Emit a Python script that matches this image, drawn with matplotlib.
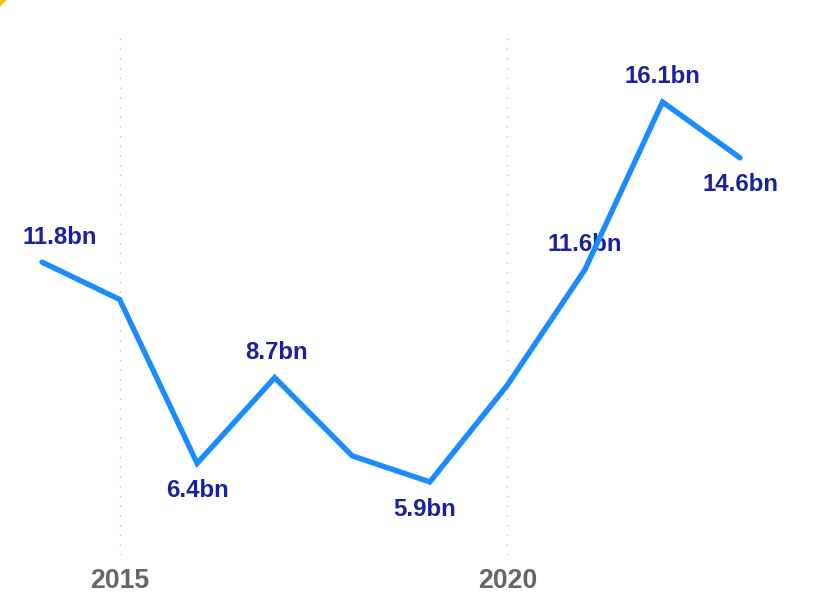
import matplotlib
matplotlib.use("Agg")
import matplotlib.pyplot as plt
from matplotlib.patches import Wedge

# Dados
years = [2014, 2015, 2016, 2017, 2018, 2019, 2020, 2021, 2022, 2023]
values = [11.8, 10.8, 6.4, 8.7, 6.6, 5.9, 8.5, 11.6, 16.1, 14.6]
labeled_years = [2014, 2016, 2017, 2019, 2021, 2022, 2023]
tick_years = [2015, 2020]

# Posição dos rótulos (offset em pontos)
label_offsets = {
    2014: (13, 18),
    2016: (0, -19.5),
    2017: (1, 18),
    2019: (-3.5, -19.5),
    2021: (0, 18),
    2022: (0, 18),
    2023: (0, -19.5),
}

plt.rcParams['font.family'] = ['Liberation Sans', 'DejaVu Sans']

fig = plt.figure(figsize=(8.28, 5.92), dpi=100)
ax = fig.add_axes([0, 0.0625, 1, 0.8818])

ax.plot(years, values, color='#1a8cff', linewidth=3.9, zorder=3,
        solid_joinstyle='miter', solid_capstyle='round')

for yr, val in zip(years, values):
    if yr not in labeled_years:
        continue
    dx, dy = label_offsets[yr]
    ax.annotate(f"{val:.1f}bn", (yr, val), xytext=(dx, dy), textcoords='offset points',
                ha='center', va='center', fontsize=17.3, fontweight='bold',
                color='#1a2299', zorder=2)

ax.set_xlim(2013.458, 2024.134)
ax.set_ylim(3.939, 17.952)
ax.set_xticks(tick_years)
ax.set_xticklabels([str(t) for t in tick_years], fontsize=19.2, fontweight='bold', color='#666666')
ax.tick_params(axis='x', length=0, pad=9)
ax.set_yticks([])
ax.grid(axis='x', color='#c4c4c4', linewidth=1, linestyle=(0, (1, 6)))
for s in ax.spines.values():
    s.set_visible(False)

# Canto amarelo (borda arredondada)
fig.patches.append(Wedge((0.30, 5.62), 1.0, 90, 180, width=1.0 - 0.385,
                         transform=fig.dpi_scale_trans, color='#f2c318'))

fig.savefig("out.png", dpi=100)
